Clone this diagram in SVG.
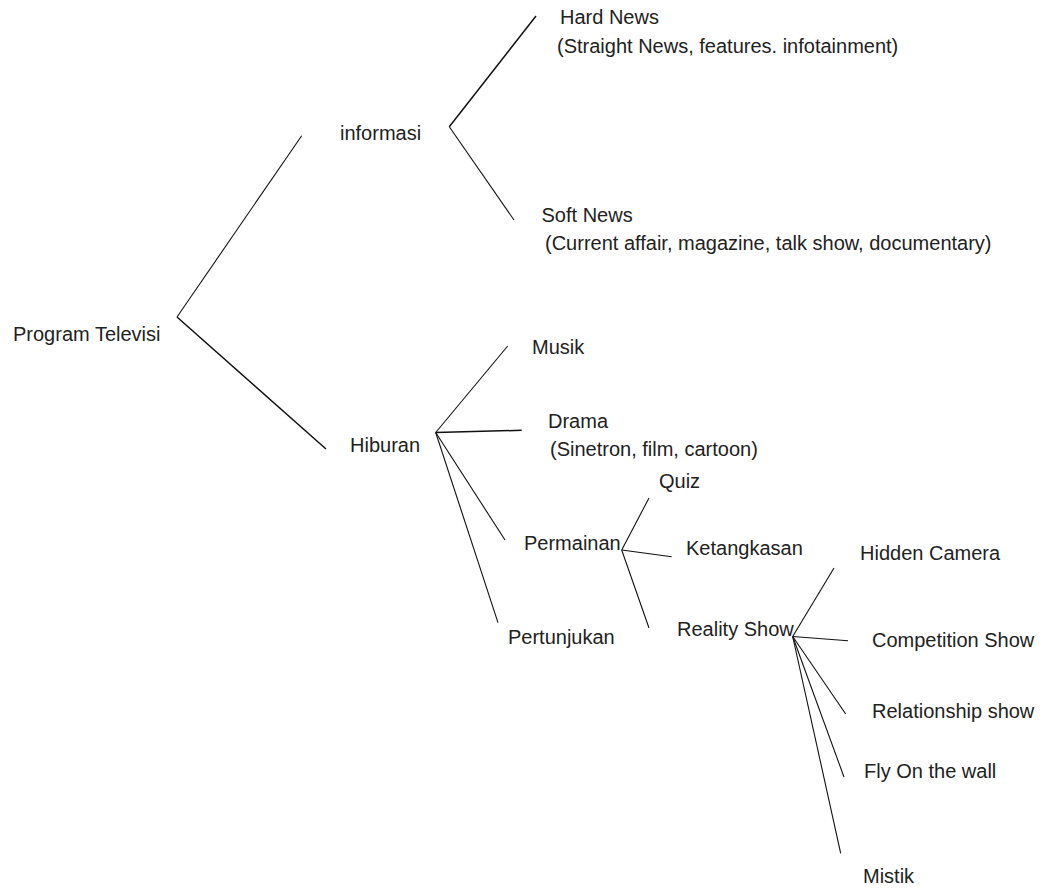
<svg xmlns="http://www.w3.org/2000/svg" width="1048" height="888" viewBox="0 0 1048 888">
<style>
text{font-family:"Liberation Sans",Arial,sans-serif;font-size:20px;fill:#222}
.c line{stroke:#111;stroke-width:1.1;fill:none}
.c line.b{stroke-width:1.5}
</style>
<rect width="1048" height="888" fill="#fff"/>
<g id="connectors" class="c">
<line x1="177" y1="317" x2="301.7" y2="135.7"/>
<line class="b" x1="177" y1="317" x2="326" y2="449"/>
<line class="b" x1="449.3" y1="126.7" x2="536" y2="16"/>
<line x1="449.3" y1="126.7" x2="514" y2="220"/>
<line x1="435.7" y1="432.5" x2="507.7" y2="346"/>
<line class="b" x1="435.7" y1="432.5" x2="521.7" y2="430.3"/>
<line x1="435.7" y1="432.5" x2="505" y2="540"/>
<line x1="435.7" y1="432.5" x2="498" y2="622.7"/>
<line x1="621.7" y1="550" x2="649" y2="498"/>
<line x1="621.7" y1="550" x2="671.7" y2="556.7"/>
<line x1="621.7" y1="550" x2="649" y2="628"/>
<line x1="792.7" y1="636.5" x2="834" y2="568"/>
<line x1="792.7" y1="636.5" x2="848" y2="640.7"/>
<line x1="792.7" y1="636.5" x2="845.7" y2="714"/>
<line x1="792.7" y1="636.5" x2="844" y2="777"/>
<line x1="792.7" y1="636.5" x2="840.7" y2="853.3"/>
</g>
<g id="program-televisi"><text x="13" y="341">Program Televisi</text></g>
<g id="informasi"><text x="340" y="140">informasi</text></g>
<g id="hard-news"><text x="560" y="24">Hard News</text><text x="557" y="53">(Straight News, features. infotainment)</text></g>
<g id="soft-news"><text x="541.5" y="221.5">Soft News</text><text x="545" y="250">(Current affair, magazine, talk show, documentary)</text></g>
<g id="hiburan"><text x="350" y="452">Hiburan</text></g>
<g id="musik"><text x="532" y="354">Musik</text></g>
<g id="drama"><text x="548" y="428">Drama</text><text x="550" y="456">(Sinetron, film, cartoon)</text></g>
<g id="permainan"><text x="524" y="550">Permainan</text></g>
<g id="quiz"><text x="659" y="488">Quiz</text></g>
<g id="ketangkasan"><text x="686" y="555">Ketangkasan</text></g>
<g id="reality-show"><text x="677" y="636">Reality Show</text></g>
<g id="pertunjukan"><text x="508" y="644">Pertunjukan</text></g>
<g id="hidden-camera"><text x="860" y="560">Hidden Camera</text></g>
<g id="competition-show"><text x="872" y="647">Competition Show</text></g>
<g id="relationship-show"><text x="872" y="718">Relationship show</text></g>
<g id="fly-on-the-wall"><text x="864" y="778">Fly On the wall</text></g>
<g id="mistik"><text x="863" y="883">Mistik</text></g>
</svg>
